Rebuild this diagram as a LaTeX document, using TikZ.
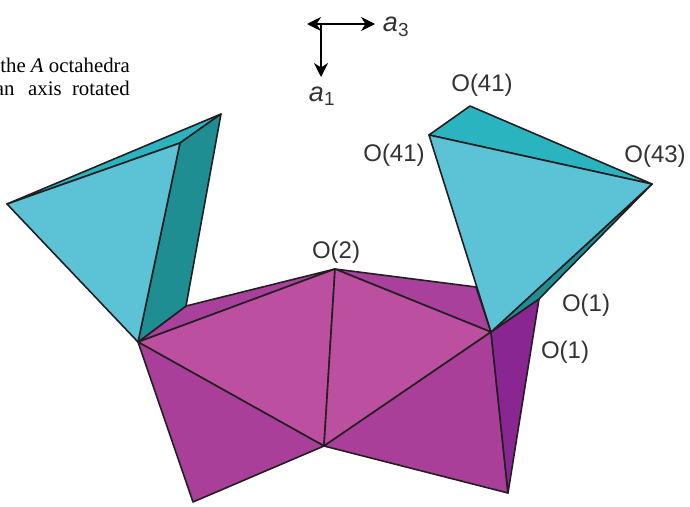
\documentclass[tikz,border=0pt]{standalone}
\usepackage{fontspec}
\setmainfont{Liberation Serif}
\setsansfont{Liberation Sans}
\usetikzlibrary{arrows.meta}
\definecolor{tealface}{HTML}{5CC3D6}
\definecolor{tealtop}{HTML}{2AB4C0}
\definecolor{tealdark}{HTML}{1F8E93}
\definecolor{purpleface}{HTML}{BC4F9F}
\definecolor{purplelow}{HTML}{A93F98}
\definecolor{purpleback}{HTML}{A8409C}
\definecolor{purpledark}{HTML}{8A2692}
\definecolor{edgeink}{HTML}{231F20}
\begin{document}
\begin{tikzpicture}[
  x=1pt, y=-1pt,
  face/.style={draw=edgeink, line width=1.6pt, line join=round},
  axis/.style={-{Stealth[length=14pt,width=14pt]}, draw=black, line width=2pt},
  site/.style={font=\sffamily\fontsize{24}{24}\selectfont, text=black!80, inner sep=0pt},
  axislabel/.style={font=\sffamily\fontsize{27}{27}\selectfont, text=black!80, inner sep=0pt},
  caption/.style={font=\fontsize{20.8}{20.8}\selectfont, anchor=east, inner sep=0pt}
]
\useasboundingbox (0,0) rectangle (690,506);
\fill[white] (0,0) rectangle (690,506);

% vertices
\coordinate (tipL) at (7,204);
\coordinate (topL) at (221,114);
\coordinate (midL) at (180,143);
\coordinate (baseL) at (186,306);
\coordinate (left) at (138,342);
\coordinate (otwo) at (335,269);
\coordinate (backR) at (476,287);
\coordinate (right) at (491,332);
\coordinate (centre) at (324,446);
\coordinate (lowL) at (193,502);
\coordinate (lowR) at (508,493);
\coordinate (oneR) at (539,299);
\coordinate (ofourL) at (429,135);
\coordinate (ofourT) at (470,106);
\coordinate (ofourR) at (652,184);

% back faces
\filldraw[face, fill=purpleback] (left) -- (baseL) -- (otwo) -- cycle;
\filldraw[face, fill=purpleback] (otwo) -- (backR) -- (right) -- cycle;
\filldraw[face, fill=tealtop] (tipL) -- (topL) -- (midL) -- cycle;
\filldraw[face, fill=tealdark] (midL) -- (topL) -- (baseL) -- (left) -- cycle;
\filldraw[face, fill=tealface] (tipL) -- (midL) -- (left) -- cycle;

% purple octahedra
\filldraw[face, fill=purpleface] (left) -- (otwo) -- (centre) -- cycle;
\filldraw[face, fill=purpleface] (otwo) -- (right) -- (centre) -- cycle;
\filldraw[face, fill=purplelow] (left) -- (centre) -- (lowL) -- cycle;
\filldraw[face, fill=purplelow] (centre) -- (right) -- (lowR) -- cycle;
\filldraw[face, fill=purpledark] (right) -- (oneR) -- (lowR) -- cycle;

% right teal octahedron
\filldraw[face, fill=tealdark] (right) -- (ofourR) -- (oneR) -- cycle;
\filldraw[face, fill=tealtop] (ofourL) -- (ofourT) -- (ofourR) -- cycle;
\filldraw[face, fill=tealface] (ofourL) -- (ofourR) -- (right) -- cycle;

% axes
\coordinate (axisO) at (321,24);
\coordinate (axisW) at (307,24);
\coordinate (axisE) at (375,24);
\coordinate (axisS) at (321,77);
\draw[axis] (axisO) -- (axisW);
\draw[axis] (axisO) -- (axisE);
\draw[axis] (axisO) -- (axisS);
\node[axislabel] (aone) at (322,96) {\textit{a}\textsubscript{1}};
\node[axislabel] (athree) at (396,27) {\textit{a}\textsubscript{3}};

% labels
\node[site] (lblT) at (482,85) {O(41)};
\node[site] (lblL) at (394,155) {O(41)};
\node[site] (lblR) at (655,156) {O(43)};
\node[site] (lbltwo) at (336,252) {O(2)};
\node[site] (lblone) at (586,305) {O(1)};
\node[site] (lbloneb) at (565,352) {O(1)};

% cut-off text
\node[caption] (capA) at (130,65) {the \textit{A} octahedra};
\node[caption] (capB) at (130,88) {an\hspace{0.4em} axis\hspace{0.25em} rotated};
\end{tikzpicture}
\end{document}
